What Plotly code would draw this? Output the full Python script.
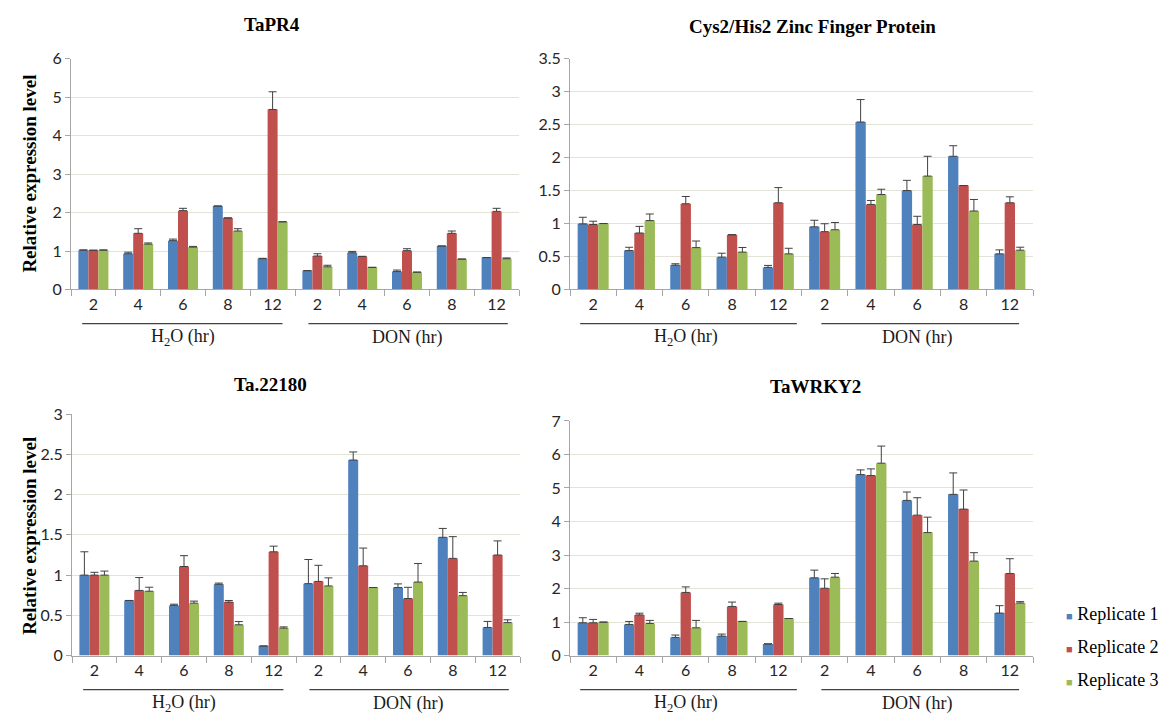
import plotly.graph_objects as go

# ---- data -------------------------------------------------------------
TIMES = ["2", "4", "6", "8", "12"]
TREATMENTS = ["H<sub>2</sub>O (hr)", "DON (hr)"]
REPLICATES = ["Replicate 1", "Replicate 2", "Replicate 3"]
COLORS = ["#4F81BD", "#C0504D", "#9BBB59"]

# TaPR4 (H2O 2..12, DON 2..12)
tapr4_r1 = [1.02, 0.93, 1.27, 2.17, 0.80, 0.49, 0.955, 0.465, 1.13, 0.83]
tapr4_r1_err = [0.01, 0.04, 0.04, 0.0, 0.01, 0.0, 0.035, 0.04, 0.0, 0.0]
tapr4_r2 = [1.02, 1.46, 2.05, 1.86, 4.68, 0.87, 0.86, 1.01, 1.46, 2.03]
tapr4_r2_err = [0.0, 0.12, 0.06, 0.0, 0.46, 0.06, 0.0, 0.05, 0.06, 0.08]
tapr4_r3 = [1.02, 1.18, 1.10, 1.52, 1.76, 0.59, 0.575, 0.45, 0.79, 0.80]
tapr4_r3_err = [0.01, 0.03, 0.02, 0.06, 0.0, 0.04, 0.0, 0.0, 0.0, 0.02]

# Cys2/His2 zinc finger protein
zfp_r1 = [0.995, 0.59, 0.37, 0.49, 0.335, 0.95, 2.54, 1.50, 2.02, 0.54]
zfp_r1_err = [0.10, 0.05, 0.02, 0.06, 0.03, 0.10, 0.34, 0.155, 0.16, 0.06]
zfp_r2 = [0.985, 0.857, 1.30, 0.83, 1.315, 0.877, 1.29, 0.985, 1.576, 1.315]
zfp_r2_err = [0.05, 0.10, 0.11, 0.0, 0.23, 0.12, 0.06, 0.125, 0.0, 0.09]
zfp_r3 = [1.0, 1.045, 0.635, 0.567, 0.54, 0.906, 1.44, 1.72, 1.19, 0.596]
zfp_r3_err = [0.0, 0.10, 0.10, 0.07, 0.085, 0.11, 0.08, 0.30, 0.175, 0.045]

# Ta.22180
ta22180_r1 = [1.0, 0.685, 0.624, 0.886, 0.12, 0.894, 2.43, 0.846, 1.47, 0.35]
ta22180_r1_err = [0.29, 0.0, 0.015, 0.015, 0.0, 0.30, 0.10, 0.045, 0.11, 0.075]
ta22180_r2 = [1.0, 0.81, 1.107, 0.665, 1.29, 0.922, 1.116, 0.709, 1.208, 1.25]
ta22180_r2_err = [0.035, 0.16, 0.135, 0.02, 0.07, 0.20, 0.22, 0.14, 0.27, 0.175]
ta22180_r3 = [1.0, 0.80, 0.652, 0.383, 0.342, 0.866, 0.846, 0.914, 0.745, 0.41]
ta22180_r3_err = [0.05, 0.05, 0.025, 0.04, 0.015, 0.10, 0.0, 0.23, 0.04, 0.035]

# TaWRKY2
wrky2_r1 = [0.98, 0.93, 0.544, 0.583, 0.35, 2.32, 5.40, 4.63, 4.81, 1.27]
wrky2_r1_err = [0.15, 0.09, 0.07, 0.06, 0.0, 0.23, 0.14, 0.25, 0.64, 0.22]
wrky2_r2 = [0.98, 1.215, 1.885, 1.467, 1.525, 2.01, 5.37, 4.19, 4.37, 2.45]
wrky2_r2_err = [0.10, 0.05, 0.165, 0.13, 0.04, 0.28, 0.20, 0.52, 0.57, 0.44]
wrky2_r3 = [1.0, 0.96, 0.83, 1.02, 1.107, 2.34, 5.74, 3.67, 2.82, 1.57]
wrky2_r3_err = [0.0, 0.09, 0.22, 0.0, 0.0, 0.11, 0.51, 0.46, 0.25, 0.04]

PANELS = [
    dict(title="TaPR4", ymax=6, dtick=1,
         series=[tapr4_r1, tapr4_r2, tapr4_r3],
         errors=[tapr4_r1_err, tapr4_r2_err, tapr4_r3_err]),
    dict(title="Cys2/His2 Zinc Finger Protein", ymax=3.5, dtick=0.5,
         series=[zfp_r1, zfp_r2, zfp_r3],
         errors=[zfp_r1_err, zfp_r2_err, zfp_r3_err]),
    dict(title="Ta.22180", ymax=3, dtick=0.5,
         series=[ta22180_r1, ta22180_r2, ta22180_r3],
         errors=[ta22180_r1_err, ta22180_r2_err, ta22180_r3_err]),
    dict(title="TaWRKY2", ymax=7, dtick=1,
         series=[wrky2_r1, wrky2_r2, wrky2_r3],
         errors=[wrky2_r1_err, wrky2_r2_err, wrky2_r3_err]),
]

# ---- layout geometry (pixels in a 1171 x 725 canvas) ------------------
W, H = 1171, 725
# (left, right, top, bottom) of each plotting area
BOXES = [(71, 519, 50, 287), (570, 1033, 50, 287),
         (72, 520, 415, 663), (570, 1033, 422, 663)]
TITLE_POS = [(272, 15), (812, 17), (270, 385), (815, 387)]
# underline spans in category units for [H2O, DON]
UNDERLINES = [[(-0.25, 4.22), (4.8, 9.25)], [(-0.28, 4.4), (4.93, 9.2)],
              [(-0.25, 4.22), (4.8, 9.25)], [(-0.28, 4.4), (4.93, 9.2)]]
LEGEND_X, LEGEND_Y0, LEGEND_STEP = 1064, 620, 34

SERIF = "Liberation Serif"
SANS = "Lato"
AXIS_COLOR = "#A6A6A6"
GRID_COLOR = "#E3E3D8"
ERR_COLOR = "#404040"

n_cat = len(TIMES) * len(TREATMENTS)
positions = list(range(n_cat))
labels = TIMES * len(TREATMENTS)


def px_x(p):
    return p / W


def px_y(p):
    return 1 - p / H


def cat_to_paper(box, pos):
    left, right = box[0], box[1]
    return px_x(left + (pos + 0.5) / n_cat * (right - left))


fig = go.Figure()
annotations = []
shapes = []

for k, panel in enumerate(PANELS):
    idx = "" if k == 0 else str(k + 1)
    xa, ya = "x" + idx, "y" + idx
    for r, (vals, errs) in enumerate(zip(panel["series"], panel["errors"])):
        fig.add_trace(go.Bar(
            x=positions, y=vals, name=REPLICATES[r],
            marker=dict(color=COLORS[r], line=dict(width=0)),
            error_y=dict(type="data", array=errs, symmetric=False,
                         arrayminus=[0] * len(errs), color=ERR_COLOR,
                         thickness=1, width=4),
            xaxis=xa, yaxis=ya, showlegend=False,
        ))

    left, right, top, bottom = BOXES[k]
    fig.layout["xaxis" + idx] = dict(
        domain=[px_x(left), px_x(right)], anchor=ya, range=[-0.5, n_cat - 0.5],
        tickmode="array", tickvals=positions, ticktext=labels, ticks="",
        tickfont=dict(family=SANS, size=16, color="#262626"),
        showline=True, linecolor=AXIS_COLOR, linewidth=1, showgrid=False,
        zeroline=False, fixedrange=True,
        minor=dict(tickmode="array", tickvals=[p - 0.5 for p in range(n_cat + 1)],
                   ticks="outside", ticklen=6, tickcolor=AXIS_COLOR, showgrid=False),
    )
    fig.layout["yaxis" + idx] = dict(
        domain=[px_y(bottom), px_y(top)], anchor=xa, range=[0, panel["ymax"]],
        dtick=panel["dtick"], tick0=0, ticks="outside", ticklen=5,
        tickcolor=AXIS_COLOR, showline=True, linecolor=AXIS_COLOR,
        gridcolor=GRID_COLOR, gridwidth=1, zeroline=False,
        tickfont=dict(family=SANS, size=16, color="#262626"), fixedrange=True,
    )

    # panel title
    tx, ty = TITLE_POS[k]
    annotations.append(dict(
        text="<b>%s</b>" % panel["title"], x=px_x(tx), y=px_y(ty),
        xref="paper", yref="paper", showarrow=False, xanchor="center",
        yanchor="middle", font=dict(family=SERIF, size=19, color="black")))

    # treatment group underline and label
    line_y = bottom + 35
    label_y = bottom + 49
    for g, (a, b) in enumerate(UNDERLINES[k]):
        shapes.append(dict(
            type="line", xref="paper", yref="paper",
            x0=cat_to_paper(BOXES[k], a), x1=cat_to_paper(BOXES[k], b),
            y0=px_y(line_y), y1=px_y(line_y),
            line=dict(color="#404040", width=1.2)))
        mid = (g * len(TIMES) + (g + 1) * len(TIMES) - 1) / 2
        annotations.append(dict(
            text=TREATMENTS[g], x=cat_to_paper(BOXES[k], mid), y=px_y(label_y),
            xref="paper", yref="paper", showarrow=False, xanchor="center",
            yanchor="middle", font=dict(family=SERIF, size=18, color="#1a1a1a")))

# y-axis titles on the left column
for yc in (168, 540):
    annotations.append(dict(
        text="<b>Relative expression level</b>", x=px_x(30), y=px_y(yc),
        xref="paper", yref="paper", showarrow=False, textangle=-90,
        xanchor="center", yanchor="middle",
        font=dict(family=SERIF, size=19, color="black")))

# legend: colour key square followed by the replicate name
for r, name in enumerate(REPLICATES):
    annotations.append(dict(
        text='<span style="color:%s;font-size:11px">\u25A0</span> %s' % (COLORS[r], name),
        x=px_x(LEGEND_X), y=px_y(LEGEND_Y0 + r * LEGEND_STEP),
        xref="paper", yref="paper", showarrow=False, xanchor="left",
        yanchor="middle", font=dict(family=SERIF, size=18, color="black")))

fig.update_layout(
    width=W, height=H, margin=dict(l=0, r=0, t=0, b=0),
    font=dict(family=SERIF, size=18, color="black"),
    paper_bgcolor="white", plot_bgcolor="white",
    barmode="group", bargap=0.33, bargroupgap=0, showlegend=False,
    annotations=annotations, shapes=shapes,
)

fig.write_html("out.html")
